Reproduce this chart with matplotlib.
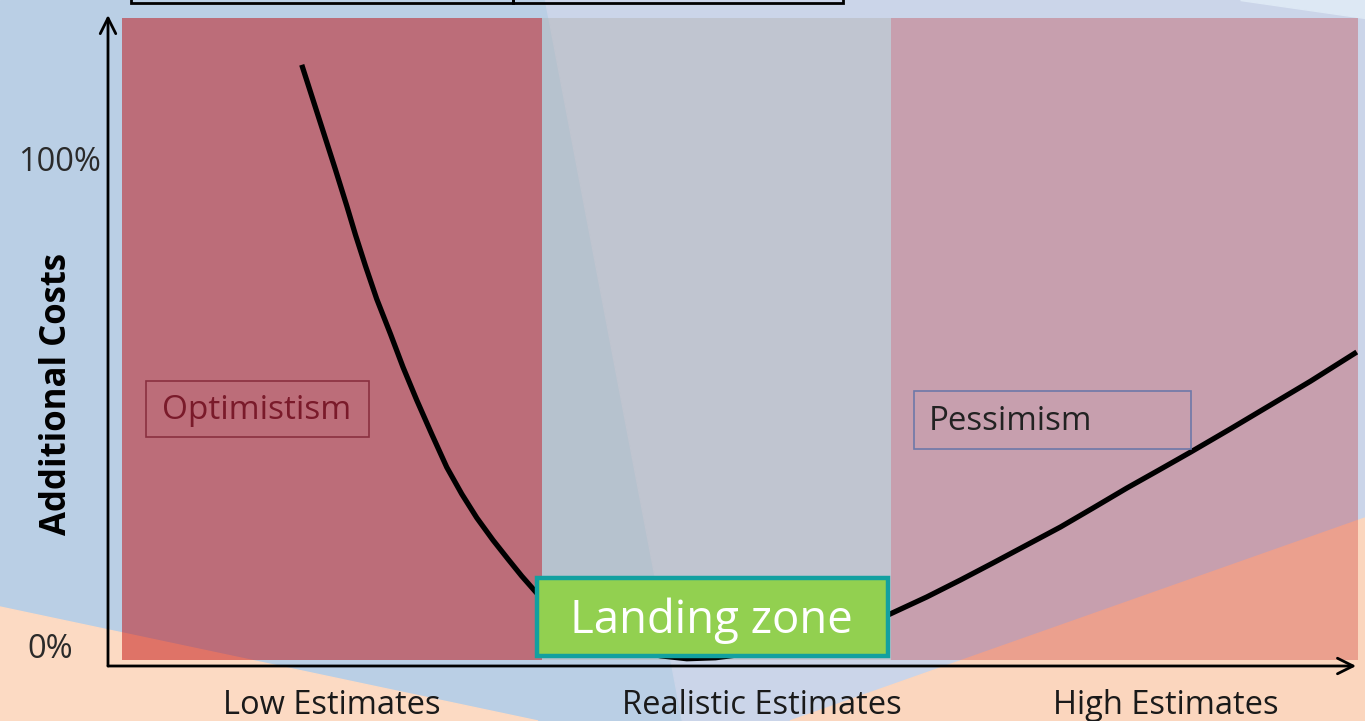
import matplotlib
matplotlib.use("Agg")
import matplotlib.pyplot as plt
from matplotlib.patches import Polygon, Rectangle

plt.rcParams['font.family'] = ['Open Sans', 'DejaVu Sans']

# curve: x = estimate position (0..100), y = additional cost in %
est_x = [15.5, 16.4, 17.3, 18.2, 19.1, 19.8, 20.6, 21.5, 22.6, 23.6, 24.7, 25.9,
         27.1, 28.3, 29.5, 30.8, 32.0, 33.1, 34.3, 35.8, 37.4, 39.4, 41.8, 44.2,
         46.3, 48.6, 51.0, 53.8, 57.0, 59.8, 62.4, 65.5, 68.2, 70.8, 73.5, 76.2,
         78.8, 81.5, 84.2, 86.6, 89.8, 93.0, 96.2, 99.9]
cost_pct = [120.0, 112.8, 105.6, 98.4, 91.0, 85.0, 78.6, 71.8, 64.6, 57.8, 51.0, 44.0,
            37.2, 31.7, 26.8, 22.2, 18.3, 14.8, 11.3, 7.8, 4.7, 1.9, -0.3, -1.6,
            -2.2, -2.0, -1.2, 0.1, 1.8, 3.9, 6.8, 10.5, 14.0, 17.5, 21.2, 24.9,
            28.8, 32.9, 36.8, 40.3, 45.1, 50.0, 54.9, 60.9]

zone_edges = [1.1, 34.7, 62.6, 100.0]
zone_top = 129.6
zone_bottom = -2.5
zone_colors = [(0.75, 0.0, 0.0, 0.47), (0.70, 0.70, 0.70, 0.46), (0.75, 0.0, 0.0, 0.25)]

x_labels = ['Low Estimates', 'Realistic Estimates', 'High Estimates']
x_label_pos = [17.9, 52.3, 84.6]
y_ticks = [0, 100]
y_tick_labels = ['0%', '100%']

W, H = 1365, 721
fig = plt.figure(figsize=(W / 100, H / 100), dpi=100)

# background layer in pixel coordinates
bg = fig.add_axes([0, 0, 1, 1])
bg.set_xlim(0, W)
bg.set_ylim(H, 0)
bg.axis('off')
bg.add_patch(Rectangle((0, 0), W, H, color='#bacfe5', zorder=0))
bg.add_patch(Polygon([(545, 0), (W, 0), (W, H), (682, H)], color='#cbd5e9', zorder=1))
bg.add_patch(Polygon([(1240, 0), (W, 0), (W, 18)], color='#dde8f4', zorder=1))
bg.add_patch(Polygon([(0, 607), (538, H), (0, H)], color='#fcdac3', zorder=2))
bg.add_patch(Polygon([(790, H), (W, 518), (W, H)], color='#fbd6be', zorder=2))
# boxes cut off at the top edge
bg.add_patch(Rectangle((131, -30), 382, 33, fill=False, ec='black', lw=2, zorder=3))
bg.add_patch(Rectangle((513, -30), 330, 33, fill=False, ec='black', lw=2, zorder=3))

# data axes
ax = fig.add_axes([108 / W, (H - 666) / H, (1358 - 108) / W, (666 - 15) / H])
ax.set_xlim(0, 100)
ax.set_ylim(-3.7, 130.25)
ax.patch.set_alpha(0)
for s in ax.spines.values():
    s.set_visible(False)
ax.set_xticks([])
ax.set_yticks([])

for i in range(3):
    ax.bar(zone_edges[i], zone_top - zone_bottom, width=zone_edges[i + 1] - zone_edges[i],
           bottom=zone_bottom, align='edge', color=zone_colors[i], lw=0, zorder=1)

ax.plot(est_x, cost_pct, color='black', lw=3.8, solid_capstyle='butt',
        solid_joinstyle='round', zorder=3)

# axis arrows
ax.annotate('', xy=(0, 1.0), xytext=(0, 0), xycoords='axes fraction',
            arrowprops=dict(arrowstyle='->', lw=2, color='black', mutation_scale=28,
                            shrinkA=0, shrinkB=0), zorder=5)
ax.annotate('', xy=(0.9985, 0), xytext=(0, 0), xycoords='axes fraction',
            arrowprops=dict(arrowstyle='->', lw=2, color='black', mutation_scale=28,
                            shrinkA=0, shrinkB=0), zorder=5)

ax.text(-3.84, y_ticks[1], y_tick_labels[1], ha='center', va='center', fontsize=23.5,
        color='#2a2a2a', clip_on=False)
ax.text(-4.6, y_ticks[0] - 0.3, y_tick_labels[0], ha='center', va='center', fontsize=23.5,
        color='#2a2a2a', clip_on=False)
ax.text(-4.1, 52.3, 'Additional Costs', rotation=90, ha='center', va='center',
        fontsize=25, fontweight='bold', color='black', clip_on=False)
for lab, xp in zip(x_labels, x_label_pos):
    ax.text(xp, -11.8, lab, ha='center', va='center', fontsize=23.5, color='#1a1a1a',
            clip_on=False)

# annotation boxes
ax.add_patch(Rectangle((3.04, (648 - 437) / 4.86), 17.84, 56 / 4.86, fill=False,
                       ec='#8a3040', lw=1.2, zorder=4))
ax.text(4.3, (648 - 410) / 4.86, 'Optimistism', ha='left', va='center', fontsize=24,
        color='#7a1a2a', zorder=5)
ax.add_patch(Rectangle((64.5, (648 - 449) / 4.86), 22.16, 58 / 4.86, fill=False,
                       ec='#6e78a8', lw=1.2, zorder=4))
ax.text(65.7, (648 - 421) / 4.86, 'Pessimism', ha='left', va='center', fontsize=23.8,
        color='#222222', zorder=5)

ax.add_patch(Rectangle((34.32, (648 - 656) / 4.86), 28.08, 78 / 4.86, fc='#92d050',
                       ec='#12a0a0', lw=3.2, zorder=6))
ax.text(48.3, (648 - 621) / 4.86, 'Landing zone', ha='center', va='center', fontsize=32.8,
        color='white', zorder=7)

fig.savefig('out.png', dpi=100)
